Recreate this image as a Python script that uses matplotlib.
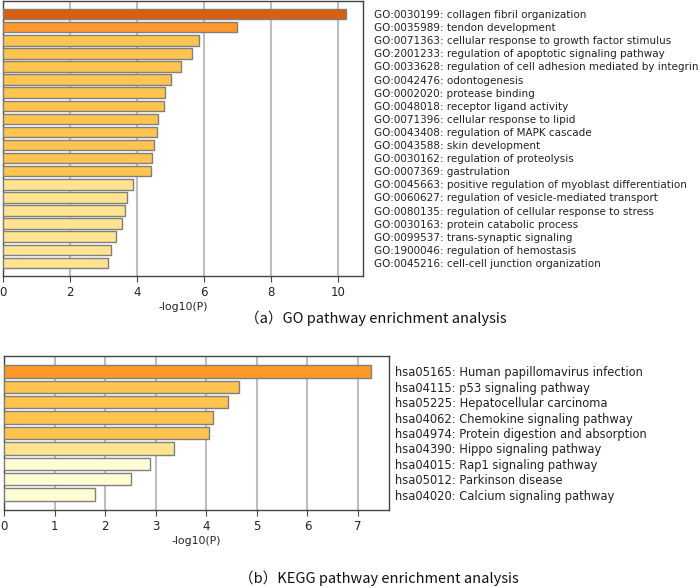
import matplotlib
matplotlib.use("Agg")
import matplotlib.pyplot as plt

go_terms = [
    "GO:0030199: collagen fibril organization",
    "GO:0035989: tendon development",
    "GO:0071363: cellular response to growth factor stimulus",
    "GO:2001233: regulation of apoptotic signaling pathway",
    "GO:0033628: regulation of cell adhesion mediated by integrin",
    "GO:0042476: odontogenesis",
    "GO:0002020: protease binding",
    "GO:0048018: receptor ligand activity",
    "GO:0071396: cellular response to lipid",
    "GO:0043408: regulation of MAPK cascade",
    "GO:0043588: skin development",
    "GO:0030162: regulation of proteolysis",
    "GO:0007369: gastrulation",
    "GO:0045663: positive regulation of myoblast differentiation",
    "GO:0060627: regulation of vesicle-mediated transport",
    "GO:0080135: regulation of cellular response to stress",
    "GO:0030163: protein catabolic process",
    "GO:0099537: trans-synaptic signaling",
    "GO:1900046: regulation of hemostasis",
    "GO:0045216: cell-cell junction organization",
]
go_values = [10.23, 6.97, 5.84, 5.65, 5.32, 5.02, 4.82, 4.80, 4.61, 4.59,
             4.50, 4.45, 4.41, 3.89, 3.71, 3.64, 3.55, 3.38, 3.22, 3.13]
go_colors = ["#d95f0e", "#fe9929"] + ["#fec44f"] * 11 + ["#fee391"] * 7

kegg_terms = [
    "hsa05165: Human papillomavirus infection",
    "hsa04115: p53 signaling pathway",
    "hsa05225: Hepatocellular carcinoma",
    "hsa04062: Chemokine signaling pathway",
    "hsa04974: Protein digestion and absorption",
    "hsa04390: Hippo signaling pathway",
    "hsa04015: Rap1 signaling pathway",
    "hsa05012: Parkinson disease",
    "hsa04020: Calcium signaling pathway",
]
kegg_values = [7.25, 4.64, 4.42, 4.14, 4.06, 3.36, 2.89, 2.52, 1.79]
kegg_colors = ["#fe9929"] + ["#fec44f"] * 4 + ["#fee391"] + ["#ffffd4"] * 3

go_ticks = [0, 2, 4, 6, 8, 10]
kegg_ticks = [0, 1, 2, 3, 4, 5, 6, 7]
xlabel = "-log10(P)"
cap_a = "（a）GO pathway enrichment analysis"
cap_b = "（b）KEGG pathway enrichment analysis"

W, H = 700, 588
fig = plt.figure(figsize=(W / 100, H / 100), dpi=100)


def make(ax, terms, values, colors, ticks, pad, lsize):
    n = len(terms)
    pos = list(range(n))
    ax.barh(pos, values, height=0.8, color=colors, edgecolor="#7f7f7f",
            linewidth=1.0, zorder=3)
    ax.set_ylim(n, -1)
    ax.set_xlim(0, max(values) * 1.05)
    ax.set_xticks(ticks)
    ax.xaxis.grid(True, color="#bdbdbd", linewidth=1.5, zorder=0)
    ax.set_axisbelow(True)
    ax.yaxis.tick_right()
    ax.set_yticks(pos)
    ax.set_yticklabels(terms, fontsize=lsize, color="#222222")
    ax.tick_params(axis="y", length=0, pad=pad)
    ax.tick_params(axis="x", labelsize=8.5, length=4, color="#444444",
                   labelcolor="#222222", pad=3)
    for s in ax.spines.values():
        s.set_color("#444444")
        s.set_linewidth(1.0)
    ax.set_xlabel(xlabel, fontsize=7.8, color="#222222", labelpad=2)


ax1 = fig.add_axes([3 / W, 1 - 276 / H, 360 / W, 275 / H])
make(ax1, go_terms, go_values, go_colors, go_ticks, 8, 7.5)

ax2 = fig.add_axes([4 / W, 1 - 510 / H, 385 / W, 154 / H])
make(ax2, kegg_terms, kegg_values, kegg_colors, kegg_ticks, 4, 8.3)

cjk = ["Noto Sans CJK SC", "DejaVu Sans"]
fig.text(376 / W, 1 - 318 / H, cap_a, ha="center", va="center",
         fontsize=10.5, family=cjk, color="#111111")
fig.text(379 / W, 1 - 578 / H, cap_b, ha="center", va="center",
         fontsize=10.5, family=cjk, color="#111111")

fig.savefig("out.png", dpi=100)
